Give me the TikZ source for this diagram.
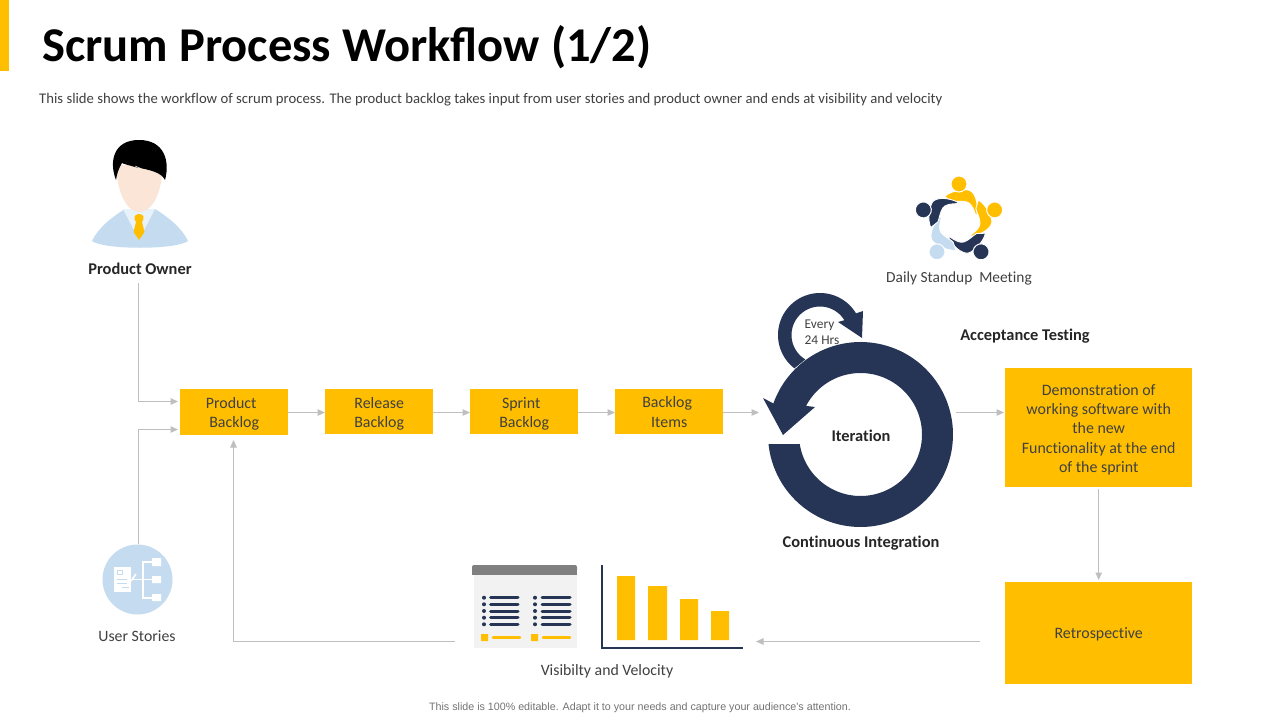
\documentclass[tikz,border=0pt]{standalone}
\usepackage{fontspec}
\setmainfont[Ligatures=NoCommon]{Carlito}
\newfontfamily\titlefont{Carlito}
\newfontfamily\arialfont{Liberation Sans}
\usetikzlibrary{arrows.meta,calc}
\definecolor{gold}{HTML}{FFBF00}
\definecolor{navy}{HTML}{263556}
\definecolor{pale}{HTML}{C5DCF0}
\definecolor{txt}{HTML}{404040}
\definecolor{conn}{HTML}{BFBFBF}
\definecolor{peach}{HTML}{FBE5D6}
\definecolor{collar}{HTML}{E8F2FA}
\newcommand{\dn}{\rule{0pt}{15pt}}
\tikzset{
  x=1pt,y=-1pt,
  goldbox/.style={fill=gold,draw=none,inner sep=0pt,align=center,text=txt,font=\fontsize{15.9}{19.2}\selectfont,anchor=north west},
  lbl/.style={inner sep=0pt,text=txt,font=\fontsize{15.8}{19}\selectfont,align=center},
  boldlbl/.style={inner sep=0pt,text=black!85,font=\fontsize{16.4}{19}\selectfont\bfseries,align=center},
  flow/.style={draw=conn,line width=1pt,-{Triangle[length=7.5pt,width=6.5pt]}},
  rowline/.style={draw=navy,line width=3pt,line cap=round},
  keyline/.style={draw=gold,line width=2.4pt,line cap=round},
}
\begin{document}
\begin{tikzpicture}
\useasboundingbox (0,0) rectangle (1280,720);
\fill[white] (0,0) rectangle (1280,720);
% header
\fill[gold] (0,0) rectangle (9,71);
\node[anchor=west,inner sep=0pt,text=black,font=\titlefont\fontsize{48.55}{50}\selectfont\bfseries] (title) at (42,47) {Scrum Process Workflow (1/2)};
\node[anchor=west,inner sep=0pt,text=txt,font=\fontsize{14.7}{16}\selectfont] (sub) at (39,100) {This slide shows the workflow of scrum process. The product backlog takes input from user stories and product owner and ends at visibility and velocity};
\node[inner sep=0pt,text=black!55,font=\arialfont\fontsize{10.7}{12}\selectfont] (foot) at (640,708) {This slide is 100\% editable. Adapt it to your needs and capture your audience's attention.};

% boxes
\node[goldbox,minimum width=108pt,minimum height=46pt] (pb) at (180,389) {\dn Product\hspace*{6pt}\\ Backlog};
\node[goldbox,minimum width=108pt,minimum height=45pt] (rb) at (325,389) {\dn Release\\ Backlog};
\node[goldbox,minimum width=108pt,minimum height=45pt] (sb) at (470,389) {\dn Sprint\hspace*{6pt}\\ Backlog};
\node[goldbox,minimum width=108pt,minimum height=45pt] (bi) at (615,389) {\dn Backlog\hspace*{4pt}\\ Items\rule[-3.4pt]{0pt}{3.4pt}};
\node[goldbox,minimum width=187pt,minimum height=119pt] (demo) at (1005,368) {\dn Demonstration of\\ working software with\\ the new\\ Functionality at the end\\ of the sprint};
\node[goldbox,minimum width=187pt,minimum height=102pt] (retro) at (1005,582) {\rule{0pt}{13pt}Retrospective};

% labels
\node[boldlbl] (po) at (140,269) {Product Owner};
\node[lbl] (us) at (137,636) {User Stories};
\node[lbl,font=\fontsize{15.4}{19}\selectfont] (dsm) at (959,278) {Daily Standup\ \ Meeting};
\node[boldlbl] (at) at (1025,336) {Acceptance Testing};
\node[boldlbl] (ci) at (861,543) {Continuous Integration};
\node[lbl] (vv) at (607,671) {Visibilty and Velocity};

% product owner figure
\fill[pale] (92,241) .. controls (98,228) and (112,217) .. (125,209) -- (155,209) .. controls (168,217) and (182,228) .. (188,241) .. controls (176,250) and (104,250) .. (92,241) -- cycle;
\fill[collar] (123,209) -- (139,240) -- (155,209) -- cycle;
\fill[gold] (139,214) .. controls (144.5,214) and (144.5,219) .. (142,222) -- (144.5,232) -- (139,240) -- (133.5,232) -- (136,222) .. controls (133.5,219) and (133.5,214) .. (139,214) -- cycle;
\fill[peach] (116.5,165) .. controls (116,185) and (124,212) .. (139.5,212) .. controls (155,212) and (163,185) .. (162.5,165) -- cycle;
\fill[black] (116,180) .. controls (109,162) and (113,140) .. (139,140) .. controls (165,140) and (170,162) .. (165,180) .. controls (161,172) and (150,170) .. (135,167) .. controls (128,165) and (124,164) .. (122,163) .. controls (119,168) and (117,173) .. (116,180) -- cycle;
\draw[white,line width=0.5pt] (135,166) -- (141,168.5);

% user stories icon
\fill[pale] (137.5,579.5) circle[radius=35];
\fill[white] (114,567) rectangle (131,592);
\draw[pale,line width=0.8pt] (117.5,570) rectangle (122,574.5) (117,579) -- (127,579) (117,583) -- (127,583) (122,587) -- (129,587);
\draw[white,line width=1.6pt] (131,581) -- (136,574);
\draw[white,line width=1.2pt] (152,562) -- (143,562) -- (143,598) -- (152,598) (133,579.5) -- (152,579.5);
\fill[white] (152,558) rectangle (161,566) (152,576) rectangle (161,583) (152,594) rectangle (161,601);

% team icon
\foreach \k/\c in {0/gold,1/gold,2/navy,3/pale,4/navy}{
  \begin{scope}[shift={(959,221.5)},rotate=-72*\k]
    \fill[\c,draw=white,line width=0.9pt] (-14.5,-25) .. controls (-8,-31) and (6,-33) .. (11,-31) .. controls (17,-28) and (19.5,-16) .. (18,-7) -- (16.5,-7) .. controls (14,-14) and (12,-18) .. (8,-19.5) .. controls (3,-21) and (-4,-19.5) .. (-7,-20) -- cycle;
    \fill[\c,draw=white,line width=1pt] (0,-37.5) circle[radius=8];
  \end{scope}
}

% ring and loop
\fill[navy] plot[domain=127.6:329,samples=60] ({820+42*cos(\x)},{335+42*sin(\x)}) -- (863,311) -- (862,338) -- (838,322) -- (845,320) -- plot[domain=329:121,samples=60] ({820+28.5*cos(\x)},{335+28.5*sin(\x)}) -- cycle;
\fill[navy] (769,444) -- plot[domain=174:-160.4,samples=120] ({860.5+92.5*cos(\x)},{434.5+92.5*sin(\x)}) -- (763,398) -- (783,435) -- (815,407) -- (807,406) -- plot[domain=-152:171.2,samples=120] ({860.5+61.5*cos(\x)},{434.5+61.5*sin(\x)}) -- (800,444) -- cycle;
\node[inner sep=0pt,text=txt,font=\fontsize{13.4}{16}\selectfont,align=center] (hrs) at (822,332) {Every\hspace*{5pt}\\ 24 Hrs};
\node[boldlbl] (iter) at (861,436) {Iteration};

% table
\fill[black!5] (474,575) rectangle (577,648);
\fill[black!50,rounded corners=2pt] (472,565) rectangle (577,572);
\fill[black!50] (472,569) rectangle (577,575);
\foreach \y in {597.7,604.3,611,617.7,624.3}{
  \fill[navy] (484,\y) circle[radius=2] (535,\y) circle[radius=2];
  \draw[rowline] (490.5,\y) -- (518,\y);
  \draw[rowline] (542,\y) -- (570,\y);
}
\fill[gold] (481,634) rectangle (488,641) (531,634) rectangle (538,641);
\draw[keyline] (493,637.5) -- (520,637.5);
\draw[keyline] (543,637.5) -- (570,637.5);

% chart
\draw[navy,line width=1.6pt] (602,565) -- (602,648) -- (743,648);
\fill[gold] (617,576) rectangle (635,640) (648,586) rectangle (667,640) (680,599) rectangle (698,640) (711,611) rectangle (729,640);

% connectors
\coordinate (poout) at (138.5,283);
\coordinate (pbin1) at (178,401.5);
\coordinate (usout) at (138.5,544);
\coordinate (pbin2) at (178,429.5);
\coordinate (rowy) at (0,412.5);
\coordinate (biout) at (759,412.5);
\coordinate (ringout) at (956,412.5);
\coordinate (retroout) at (980,641.5);
\coordinate (chartin) at (756,641.5);
\coordinate (visout) at (455,641.5);
\coordinate (pbin3) at (233.5,440);
\draw[flow] (poout) |- (pbin1);
\draw[flow] (usout) |- (pbin2);
\draw[flow] (pb.east |- rowy) -- (rowy -| rb.west);
\draw[flow] (rb.east |- rowy) -- (rowy -| sb.west);
\draw[flow] (sb.east |- rowy) -- (rowy -| bi.west);
\draw[flow] (bi.east |- rowy) -- (biout);
\draw[flow,shorten >=1pt] (ringout) -- (ringout -| demo.west);
\draw[flow,shorten <=2pt,shorten >=2pt] (demo.south) -- (retro.north);
\draw[flow] (retroout) -- (chartin);
\draw[flow] (visout) -| (pbin3);
\end{tikzpicture}
\end{document}
